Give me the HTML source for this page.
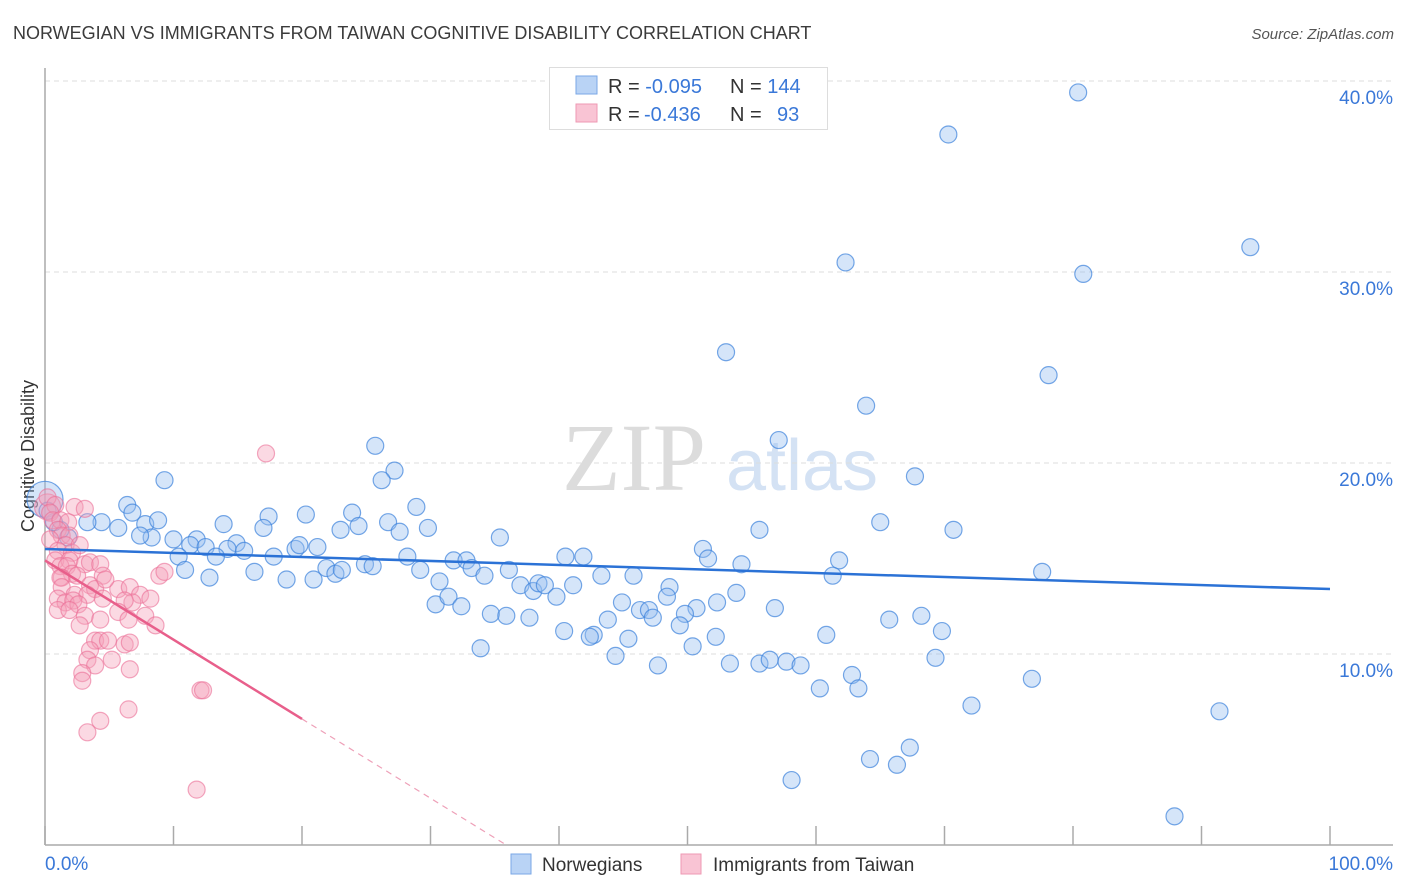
<!DOCTYPE html>
<html><head><meta charset="utf-8">
<style>
body{margin:0;background:#fff;font-family:"Liberation Sans",sans-serif;}
svg{display:block}
</style></head>
<body>
<svg id="chart" width="1406" height="892" viewBox="0 0 1406 892" xmlns="http://www.w3.org/2000/svg">
<text x="13" y="39" font-size="18" fill="#3b3b3b">NORWEGIAN VS IMMIGRANTS FROM TAIWAN COGNITIVE DISABILITY CORRELATION CHART</text>
<text x="1394" y="39" font-size="15" fill="#555" text-anchor="end" font-style="italic">Source: ZipAtlas.com</text>
<text transform="translate(34,456) rotate(-90)" font-size="18" fill="#333" text-anchor="middle">Cognitive Disability</text>
<g>
<text x="634" y="490" font-size="96" fill="#dcdcdc" font-family="Liberation Serif,serif" text-anchor="middle">ZIP</text>
<text x="802" y="490" font-size="72" fill="#d4e2f4" text-anchor="middle">atlas</text>
</g>
<g id="grid"></g>
<g id="axes"></g>
<g id="trend"></g>
<g id="pts"></g>
<g>
<rect x="549.5" y="67.5" width="278" height="62" fill="#fff" stroke="#ddd"/>
<rect x="576" y="76" width="21" height="18" fill="#b9d3f5" stroke="#7aa7e6"/>
<rect x="576" y="104" width="21" height="18" fill="#f9c4d4" stroke="#ee99b3"/>
<text x="608" y="93" font-size="20" fill="#333">R = <tspan fill="#3a78d8">-0.095</tspan><tspan x="730">N = </tspan><tspan fill="#3a78d8">144</tspan></text>
<text x="608" y="121" font-size="20" fill="#333">R = <tspan fill="#3a78d8" x="644">-0.436</tspan><tspan x="730">N = </tspan><tspan fill="#3a78d8" x="777">93</tspan></text>
</g>
<g>
<rect x="511" y="854" width="20" height="20" fill="#b9d3f5" stroke="#7aa7e6"/>
<text x="542" y="871" font-size="19" fill="#333">Norwegians</text>
<rect x="681" y="854" width="20" height="20" fill="#f9c4d4" stroke="#ee99b3"/>
<text x="713" y="871" font-size="19" fill="#333">Immigrants from Taiwan</text>
</g>
</svg>
<script>
const yTicks=[10,20,30,40];
const yTickLabels=["10.0%","20.0%","30.0%","40.0%"];
const xTicks=[0,10,20,30,40,50,60,70,80,90,100];
const xEndLabels=["0.0%","100.0%"];
const blueX=[80.4,70.3,93.8,62.3,80.8,53.0,78.1,63.9,57.1,25.7,27.2,26.2,67.7,9.3,6.4,6.8,17.4,20.3,23.9,28.9,26.7,29.8,27.6,23.0,24.4,55.6,70.7,65.0,7.8,8.8,4.4,3.3,5.7,1.8,1.2,0.7,35.4,13.9,17.0,10.0,8.3,7.4,11.8,11.3,12.5,14.9,14.2,15.5,17.8,19.5,21.2,19.8,10.4,13.3,28.2,40.5,41.9,51.2,51.6,54.2,61.8,77.6,16.3,10.9,12.8,18.8,20.9,21.9,22.6,23.1,24.9,25.5,29.2,31.8,32.8,33.2,34.2,36.1,30.7,43.3,45.8,61.3,37.0,38.0,38.4,38.9,39.8,41.1,48.6,48.4,53.8,30.4,31.4,32.4,34.7,35.9,37.7,44.9,43.8,46.3,47.0,47.3,50.7,49.8,49.4,52.3,56.8,68.2,65.7,69.8,40.4,42.7,42.4,45.4,52.2,60.8,33.9,50.4,44.4,47.7,55.6,53.3,56.4,57.7,58.8,69.3,62.8,76.8,60.3,63.3,72.1,91.4,67.3,64.2,66.3,58.1,87.9,0.2];
const blueY=[39.4,37.2,31.3,30.5,29.9,25.8,24.6,23.0,21.2,20.9,19.6,19.1,19.3,19.1,17.8,17.4,17.2,17.3,17.4,17.7,16.9,16.6,16.4,16.5,16.7,16.5,16.5,16.9,16.8,17.0,16.9,16.9,16.6,16.1,16.5,16.9,16.1,16.8,16.6,16.0,16.1,16.2,16.0,15.7,15.6,15.8,15.5,15.4,15.1,15.5,15.6,15.7,15.1,15.1,15.1,15.1,15.1,15.5,15.0,14.7,14.9,14.3,14.3,14.4,14.0,13.9,13.9,14.5,14.2,14.4,14.7,14.6,14.4,14.9,14.9,14.5,14.1,14.4,13.8,14.1,14.1,14.1,13.6,13.3,13.7,13.6,13.0,13.6,13.5,13.0,13.2,12.6,13.0,12.5,12.1,12.0,11.9,12.7,11.8,12.3,12.3,11.9,12.4,12.1,11.5,12.7,12.4,12.0,11.8,11.2,11.2,11.0,10.9,10.8,10.9,11.0,10.3,10.4,9.9,9.4,9.5,9.5,9.7,9.6,9.4,9.8,8.9,8.7,8.2,8.2,7.3,7.0,5.1,4.5,4.2,3.4,1.5,17.5];
const pinkX=[17.2,0.2,0.8,2.3,3.1,0.4,0.6,1.2,1.8,1.0,1.3,1.9,0.4,1.6,1.0,2.1,2.7,0.8,1.9,1.2,1.7,3.1,3.5,4.3,2.1,1.3,2.5,4.5,1.2,3.5,1.3,3.9,2.3,3.3,4.5,5.7,4.7,6.6,7.4,8.2,6.8,6.2,8.9,9.3,1.0,1.6,2.2,2.6,1.0,1.9,3.1,4.3,5.7,6.5,7.8,8.6,2.7,3.9,4.3,3.5,4.9,6.2,6.6,3.3,3.9,5.2,6.6,2.9,2.9,12.1,12.3,6.5,4.3,3.3,11.8];
const pinkY=[20.5,18.2,17.8,17.7,17.6,17.4,17.0,17.0,16.9,16.5,16.2,16.2,16.0,15.7,15.4,15.3,15.7,14.9,14.9,14.6,14.6,14.7,14.8,14.7,14.2,14.0,14.1,14.1,14.0,13.6,13.5,13.4,13.1,13.1,12.9,13.4,13.9,13.5,13.1,12.9,12.7,12.8,14.1,14.3,12.9,12.7,12.8,12.6,12.3,12.3,12.0,11.8,12.2,11.8,12.0,11.5,11.5,10.7,10.7,10.2,10.7,10.5,10.6,9.7,9.4,9.7,9.2,9.0,8.6,8.1,8.1,7.1,6.5,5.9,2.9];
const bigBlue=[0.0,18.1];
const bigPink=[0.2,17.7];
const blueTrend=[[0,15.5],[100,13.4]];
const pinkTrend=[[0,14.9],[20,6.6],[35.9,0]];

const X0=45,X1=1330,Y0=845,PX=19.1;
const sx=v=>X0+v*(X1-X0)/100;
const sy=v=>Y0-v*PX;
const NS="http://www.w3.org/2000/svg";
function mk(tag,attrs,parent){const e=document.createElementNS(NS,tag);for(const k in attrs)e.setAttribute(k,attrs[k]);parent.appendChild(e);return e;}
const grid=document.getElementById('grid'),axes=document.getElementById('axes'),trend=document.getElementById('trend'),pts=document.getElementById('pts');
yTicks.forEach((t,i)=>{
 const l=mk('line',{x1:X0,x2:1393,y1:sy(t),y2:sy(t),stroke:'#ddd','stroke-dasharray':'5,4'},grid);
 
 
 const tx=mk('text',{x:1393,y:sy(t)+23,'font-size':19,fill:'#3a78d8','text-anchor':'end'},axes);
 tx.textContent=yTickLabels[i];
 
 
});
const ya=mk('line',{x1:X0,x2:X0,y1:68,y2:Y0,stroke:'#aaa','stroke-width':1.5},axes);


const xa=mk('line',{x1:X0,x2:1393,y1:Y0,y2:Y0,stroke:'#aaa','stroke-width':1.5},axes);


xTicks.forEach(t=>{
 const l=mk('line',{x1:sx(t),x2:sx(t),y1:826,y2:Y0,stroke:'#aaa','stroke-width':1.5},axes);
 
 
});
const xl0=mk('text',{x:45,y:870,'font-size':19,fill:'#3a78d8'},axes);xl0.textContent=xEndLabels[0];


const xl1=mk('text',{x:1393,y:870,'font-size':19,fill:'#3a78d8','text-anchor':'end'},axes);xl1.textContent=xEndLabels[1];



function dot(x,y,r,cls){
 const c=mk('circle',{cx:sx(x),cy:sy(y),r:r,fill:cls=='b'?'rgba(150,190,240,0.4)':'rgba(245,160,185,0.4)',stroke:cls=='b'?'rgba(60,130,220,0.7)':'rgba(235,110,150,0.6)','stroke-width':1.2},pts);
 return c;
}
const bb=dot(bigBlue[0],bigBlue[1],18,'b');


blueX.forEach((x,i)=>{const c=dot(x,blueY[i],8.5,'b');
 
 });
const bp=dot(bigPink[0],bigPink[1],13,'p');


pinkX.forEach((x,i)=>{const c=dot(x,pinkY[i],8.5,'p');
 
 });

const bt=mk('line',{x1:sx(blueTrend[0][0]),y1:sy(blueTrend[0][1]),x2:sx(blueTrend[1][0]),y2:sy(blueTrend[1][1]),stroke:'#2b72d6','stroke-width':2.5},pts);


const pt=mk('line',{x1:sx(pinkTrend[0][0]),y1:sy(pinkTrend[0][1]),x2:sx(pinkTrend[1][0]),y2:sy(pinkTrend[1][1]),stroke:'#e85f8b','stroke-width':2.5},pts);


const pd=mk('line',{x1:sx(pinkTrend[1][0]),y1:sy(pinkTrend[1][1]),x2:sx(pinkTrend[2][0]),y2:sy(pinkTrend[2][1]),stroke:'#eea0b8','stroke-width':1.2,'stroke-dasharray':'6,5'},pts);


</script>
</body></html>
